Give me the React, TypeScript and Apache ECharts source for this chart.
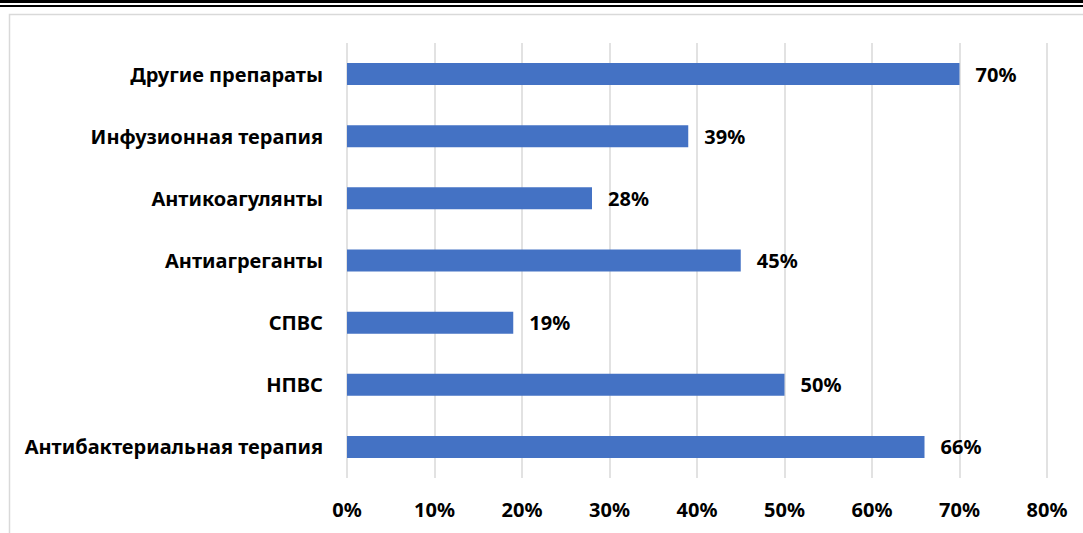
import React, { useEffect, useRef } from "react";
import * as echarts from "echarts";

const categories = [
  "Антибактериальная терапия",
  "НПВС",
  "СПВС",
  "Антиагреганты",
  "Антикоагулянты",
  "Инфузионная терапия",
  "Другие препараты",
];
const values = [66, 50, 19, 45, 28, 39, 70];
const axisMax = 80;
const axisInterval = 10;

const FONT = "'Noto Sans', sans-serif";

export default function App() {
  const ref = useRef<HTMLDivElement>(null);
  useEffect(() => {
    document.body.style.margin = "0";
    const chart = echarts.init(ref.current!, null, { renderer: "svg" });
    chart.setOption({
      animation: false,
      backgroundColor: "#ffffff",
      graphic: [
        { type: "rect", shape: { x: 0, y: 0, width: 1083, height: 3 }, style: { fill: "#000" } },
        { type: "rect", shape: { x: 0, y: 5, width: 1083, height: 2 }, style: { fill: "#000" } },
        {
          type: "rect",
          shape: { x: 9.5, y: 14.5, width: 1100, height: 600 },
          style: { fill: "none", stroke: "#d9d9d9", lineWidth: 1.5 },
          silent: true,
        },
      ],
      grid: { left: 347, right: 36, top: 43, bottom: 55, containLabel: false },
      xAxis: {
        type: "value",
        min: 0,
        max: axisMax,
        interval: axisInterval,
        axisLabel: {
          formatter: (v: number) => v + "%",
          color: "#000",
          fontFamily: FONT,
          fontWeight: "bold",
          fontSize: 20,
          margin: 21,
        },
        axisLine: { show: false },
        axisTick: { show: false },
        splitLine: { lineStyle: { color: "#d9d9d9", width: 1.5 } },
      },
      yAxis: {
        type: "category",
        data: categories,
        axisLabel: {
          color: "#000",
          fontFamily: FONT,
          fontWeight: "bold",
          fontSize: 20,
          margin: 24,
        },
        axisLine: { show: false },
        axisTick: { show: false },
      },
      series: [
        {
          type: "bar",
          data: values,
          barWidth: 22,
          itemStyle: { color: "#4472c4" },
          label: {
            show: true,
            position: "right",
            distance: 16,
            formatter: (p: any) => p.value + "%",
            color: "#000",
            fontFamily: FONT,
            fontWeight: "bold",
            fontSize: 20,
          },
        },
      ],
    });
    return () => chart.dispose();
  }, []);
  return <div ref={ref} style={{ width: 1083, height: 533 }} />;
}
